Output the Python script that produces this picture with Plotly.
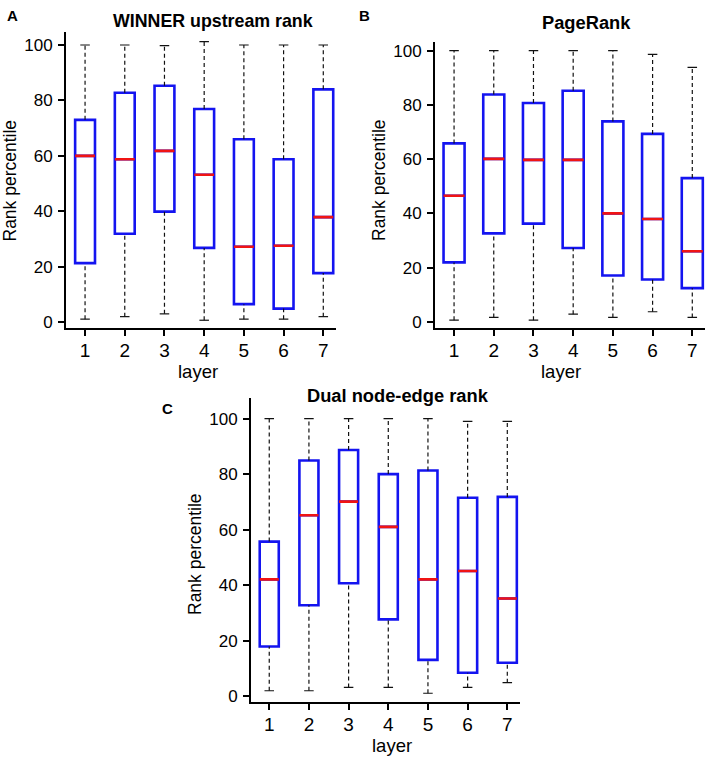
import plotly.graph_objects as go

layers = [1, 2, 3, 4, 5, 6, 7]

# A: WINNER upstream rank
winner_lo = [1.1, 2.0, 3.0, 0.7, 1.1, 1.1, 2.0]
winner_q1 = [21.3, 31.9, 39.9, 26.8, 6.5, 4.9, 17.7]
winner_med = [60.0, 58.8, 61.8, 53.2, 27.2, 27.6, 37.9]
winner_q3 = [73.0, 82.8, 85.3, 76.9, 66.0, 58.8, 84.0]
winner_hi = [100.0, 100.0, 99.8, 101.2, 100.0, 100.0, 100.0]

# B: PageRank
pr_lo = [0.6, 1.6, 0.6, 2.8, 1.6, 3.7, 1.6]
pr_q1 = [21.9, 32.6, 36.2, 27.2, 17.1, 15.6, 12.4]
pr_med = [46.5, 60.1, 59.7, 59.7, 40.0, 37.9, 26.0]
pr_q3 = [65.8, 83.8, 80.7, 85.2, 73.9, 69.3, 53.0]
pr_hi = [100.0, 100.0, 100.0, 100.0, 100.0, 98.6, 93.8]

# C: Dual node-edge rank
dual_lo = [2.0, 2.0, 3.2, 3.2, 1.1, 3.2, 4.9]
dual_q1 = [17.9, 32.8, 40.7, 27.7, 13.1, 8.5, 12.1]
dual_med = [42.1, 65.2, 70.1, 61.0, 42.1, 45.1, 35.2]
dual_q3 = [55.7, 84.9, 88.7, 80.0, 81.3, 71.5, 71.8]
dual_hi = [100.0, 100.0, 100.0, 100.0, 100.0, 99.0, 99.0]

W, H = 708, 759
FONT = "Liberation Sans, Arial, sans-serif"
BLUE = "#1414f0"
RED = "#f01414"

fig = go.Figure()


def px_x(v):
    return v / W


def px_y(v):
    return 1 - v / H


def label(text, x, y, size, angle=0):
    fig.add_annotation(text=text, x=px_x(x), y=px_y(y), xref="paper", yref="paper",
                       showarrow=False, xanchor="center", yanchor="middle", textangle=angle,
                       font=dict(family=FONT, size=size, color="black"))


def add_panel(n, lo, q1, med, q3, hi, box_w, xdom, ydom, xrange, yrange):
    xa = "x" if n == 1 else f"x{n}"
    ya = "y" if n == 1 else f"y{n}"
    fig.add_trace(go.Box(
        x=layers, q1=q1, median=med, q3=q3, lowerfence=q1, upperfence=q3,
        width=box_w, whiskerwidth=0, boxpoints=False,
        line=dict(color=BLUE, width=2.6), fillcolor="white",
        xaxis=xa, yaxis=ya, hoverinfo="skip", showlegend=False,
    ))
    # dashed whiskers
    wx, wy = [], []
    for i, l, a, b, h in zip(layers, lo, q1, q3, hi):
        wx += [i, i, None, i, i, None]
        wy += [l, a, None, b, h, None]
    fig.add_trace(go.Scatter(
        x=wx, y=wy, mode="lines", line=dict(color="#111", width=1.2, dash="4px,3px"),
        xaxis=xa, yaxis=ya, hoverinfo="skip", showlegend=False,
    ))
    # whisker caps
    cx, cy = [], []
    for i, l, h in zip(layers, lo, hi):
        cx += [i - 0.12, i + 0.12, None, i - 0.12, i + 0.12, None]
        cy += [l, l, None, h, h, None]
    fig.add_trace(go.Scatter(
        x=cx, y=cy, mode="lines", line=dict(color="#111", width=1.2),
        xaxis=xa, yaxis=ya, hoverinfo="skip", showlegend=False,
    ))
    # red medians
    mx, my = [], []
    for i, m in zip(layers, med):
        mx += [i - box_w / 2, i + box_w / 2, None]
        my += [m, m, None]
    fig.add_trace(go.Scatter(
        x=mx, y=my, mode="lines", line=dict(color=RED, width=2.6),
        xaxis=xa, yaxis=ya, hoverinfo="skip", showlegend=False,
    ))

    axis_common = dict(
        showline=True, linecolor="black", linewidth=2, mirror=False,
        ticks="outside", ticklen=6, tickwidth=2, tickcolor="black",
        showgrid=False, zeroline=False, fixedrange=True, automargin=False,
    )
    fig.update_layout(**{
        ("xaxis" if n == 1 else f"xaxis{n}"): dict(
            axis_common, domain=xdom, range=xrange, anchor=ya,
            tickmode="array", tickvals=layers, ticklabelstandoff=-2,
            tickfont=dict(family=FONT, size=19, color="black"),
        ),
        ("yaxis" if n == 1 else f"yaxis{n}"): dict(
            axis_common, domain=ydom, range=yrange, anchor=xa,
            tickmode="array", tickvals=[0, 20, 40, 60, 80, 100], ticklabelstandoff=2,
            tickfont=dict(family=FONT, size=17, color="black"),
        ),
    })


add_panel(1, winner_lo, winner_q1, winner_med, winner_q3, winner_hi, 0.5,
          [px_x(66), px_x(336)], [px_y(328), px_y(31.7)], [0.52, 7.32], [-2.1, 104.8])
add_panel(2, pr_lo, pr_q1, pr_med, pr_q3, pr_hi, 0.53,
          [px_x(435), px_x(705)], [px_y(328.3), px_y(41.7)], [0.52, 7.32], [-2.4, 103.3])
add_panel(3, dual_lo, dual_q1, dual_med, dual_q3, dual_hi, 0.48,
          [px_x(251), px_x(520)], [px_y(701.7), px_y(398.3)], [0.54, 7.32], [-1.95, 107.3])

# panel titles
label("<b>WINNER upstream rank</b>", 213, 21, 17.8)
label("<b>PageRank</b>", 586, 22, 18.3)
label("<b>Dual node-edge rank</b>", 398, 395, 18.3)

# axis titles
label("Rank percentile", 9.5, 181, 17.5, -90)
label("Rank percentile", 379, 180, 17.5, -90)
label("Rank percentile", 194.5, 554.5, 17.5, -90)
label("layer", 198, 371, 18.5)
label("layer", 561, 371, 18.5)
label("layer", 392, 745, 18.5)

# panel letters
label("<b>A</b>", 12, 16, 15)
label("<b>B</b>", 364, 16, 15)
label("<b>C</b>", 167.5, 408, 15)

fig.update_layout(
    width=W, height=H,
    margin=dict(l=0, r=0, t=0, b=0, autoexpand=False),
    paper_bgcolor="white", plot_bgcolor="white",
    showlegend=False,
    boxgap=0,
)

# drop the page's default body margin so the figure sits at the window corner
fig.write_html("out.html", config={"displayModeBar": False},
               post_script="document.body.style.margin = '0';")
